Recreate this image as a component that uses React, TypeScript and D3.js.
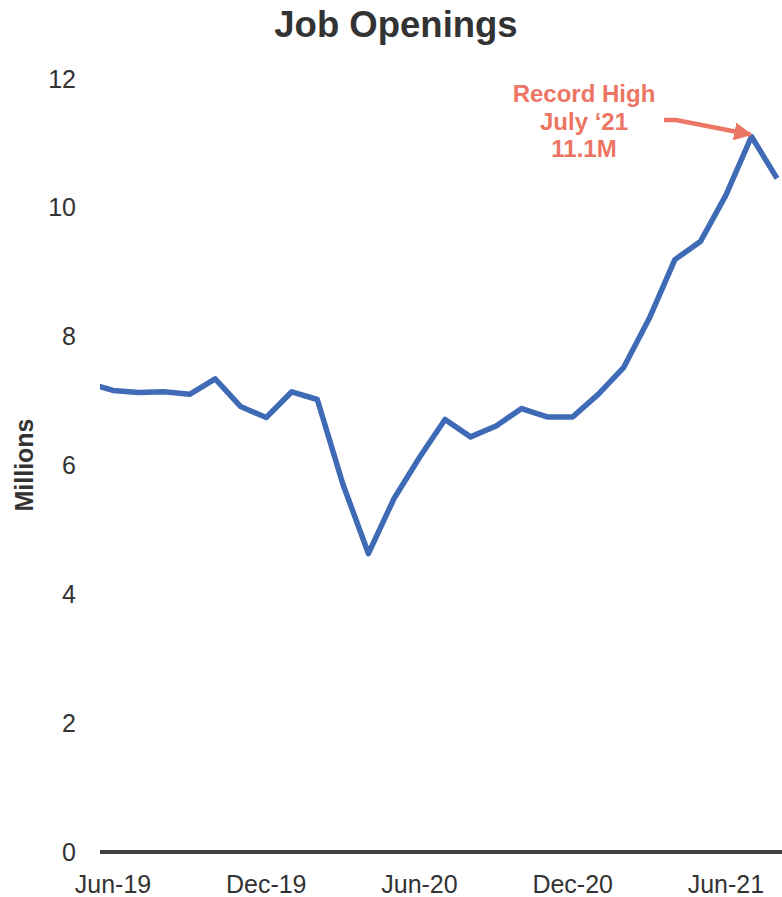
import React from "react";
import * as d3 from "d3";

// Monthly job openings (millions), May-19 through Aug-21
const months = [
  "May-19", "Jun-19", "Jul-19", "Aug-19", "Sep-19", "Oct-19", "Nov-19", "Dec-19",
  "Jan-20", "Feb-20", "Mar-20", "Apr-20", "May-20", "Jun-20", "Jul-20", "Aug-20",
  "Sep-20", "Oct-20", "Nov-20", "Dec-20", "Jan-21", "Feb-21", "Mar-21", "Apr-21",
  "May-21", "Jun-21", "Jul-21", "Aug-21",
];
const openings = [
  7.28, 7.16, 7.13, 7.14, 7.10, 7.34, 6.91, 6.74,
  7.14, 7.02, 5.71, 4.63, 5.48, 6.12, 6.71, 6.44,
  6.61, 6.88, 6.75, 6.75, 7.10, 7.52, 8.28, 9.19,
  9.47, 10.19, 11.10, 10.45,
];
const xTickLabels = ["Jun-19", "Dec-19", "Jun-20", "Dec-20", "Jun-21"];
const yTicks = [0, 2, 4, 6, 8, 10, 12];
const peakMonth = "Jul-21";
const annotationLines = ["Record High", "July \u201821", "11.1M"];

const W = 782;
const H = 897;
const FONT = "'Liberation Sans', Arial, Helvetica, sans-serif";
const LINE_BLUE = "#3F6AB6";
const NOTE_RED = "#EC7563";
const TEXT = "#333333";

export default function App() {
  const plotLeft = 100;
  const plotRight = W;

  const x = d3.scaleLinear().domain([1, months.length - 1]).range([113, 777]);
  const y = d3.scaleLinear().domain([0, 12]).range([852, 78.5]);

  const data = months.map((m, i) => ({ m, i, v: openings[i] }));
  const line = d3
    .line<{ m: string; i: number; v: number }>()
    .x((d) => x(d.i))
    .y((d) => y(d.v))
    .curve(d3.curveLinear);

  const peakIdx = months.indexOf(peakMonth);
  const px = x(peakIdx);
  const py = y(openings[peakIdx]);

  const noteX = 584;

  return (
    <svg
      width={W}
      height={H}
      viewBox={`0 0 ${W} ${H}`}
      style={{ position: "absolute", left: 0, top: 0, background: "#fff" }}
      fontFamily={FONT}
    >
      <defs>
        <clipPath id="plotClip">
          <rect x={plotLeft} y={0} width={plotRight - plotLeft} height={H} />
        </clipPath>
        <marker
          id="noteArrow"
          viewBox="0 0 10 10"
          refX={9}
          refY={5}
          markerWidth={4}
          markerHeight={4}
          orient="auto"
          markerUnits="strokeWidth"
        >
          <path d="M0,0 L10,5 L0,10 Z" fill={NOTE_RED} />
        </marker>
      </defs>

      <text
        x={396}
        y={37}
        textAnchor="middle"
        fontSize={36.5}
        fontWeight="bold"
        fill={TEXT}
      >
        Job Openings
      </text>

      <text
        transform={`translate(33,465) rotate(-90)`}
        textAnchor="middle"
        fontSize={25}
        fontWeight="bold"
        fill={TEXT}
      >
        Millions
      </text>

      {yTicks.map((t) => (
        <text
          key={t}
          x={76}
          y={y(t) + 9}
          textAnchor="end"
          fontSize={25}
          fill={TEXT}
        >
          {t}
        </text>
      ))}

      <line
        x1={plotLeft}
        x2={plotRight}
        y1={y(0)}
        y2={y(0)}
        stroke="#404040"
        strokeWidth={4}
      />

      {xTickLabels.map((lab) => (
        <text
          key={lab}
          x={x(months.indexOf(lab))}
          y={893}
          textAnchor="middle"
          fontSize={25}
          fill={TEXT}
        >
          {lab}
        </text>
      ))}

      <path
        d={line(data) ?? ""}
        fill="none"
        stroke={LINE_BLUE}
        strokeWidth={5.5}
        strokeLinejoin="round"
        clipPath="url(#plotClip)"
      />

      {annotationLines.map((s, k) => (
        <text
          key={k}
          x={noteX}
          y={102 + k * 27.5}
          textAnchor="middle"
          fontSize={24}
          fontWeight="bold"
          fill={NOTE_RED}
        >
          {s}
        </text>
      ))}

      <path
        d={`M664,120 L676,120 L${px - 1},${py - 2}`}
        fill="none"
        stroke={NOTE_RED}
        strokeWidth={4.5}
        markerEnd="url(#noteArrow)"
      />
    </svg>
  );
}
